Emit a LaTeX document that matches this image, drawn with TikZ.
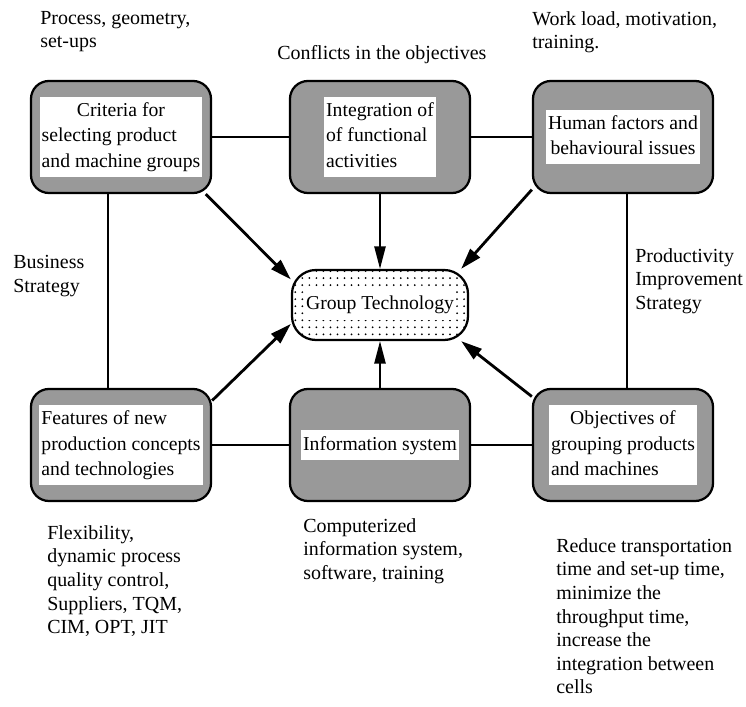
\documentclass[tikz,border=0pt]{standalone}
\usepackage{fontspec}
\setmainfont{Liberation Serif}
\usetikzlibrary{arrows.meta,patterns.meta}

\tikzset{
  factor/.style={draw,line width=1.6pt,rounded corners=0.45cm,fill=black!40,
    minimum width=4.5cm,minimum height=2.8cm,inner sep=3pt,
    font=\fontsize{14}{17.8}\selectfont},
  core/.style={draw,line width=1.6pt,rounded corners=0.6cm,
    pattern={Dots[distance=5pt,radius=0.7pt]},
    minimum width=4.4cm,minimum height=1.75cm,
    font=\fontsize{14}{17.8}\selectfont},
  note/.style={anchor=north west,inner sep=0pt,align=left,
    font=\fontsize{14.2}{16.8}\selectfont},
  link/.style={line width=1pt},
  push/.style={line width=2pt,-{Triangle[length=15pt,width=9pt]}},
  feed/.style={line width=1.2pt,-{Triangle[length=16pt,width=8pt]}}
}
\newcommand{\whitelines}[2][c]{{\setlength{\fboxsep}{1.5pt}\colorbox{white}{\begin{tabular}{@{}#1@{}}#2\end{tabular}}}}
\newcommand{\headline}[1]{\multicolumn{1}{@{}c@{}}{#1}}

\begin{document}
\begin{tikzpicture}[x=0.025cm,y=-0.025cm]

  \path[use as bounding box] (0,0) rectangle (746,707);

  % the six fields round the centre
  \draw (121,137) node [factor] (crit)
  {\whitelines[l]{\headline{Criteria for}\\selecting product\\and machine groups}};

  \draw (380,137) node [factor] (integ)
  {\whitelines[l]{Integration of\\of functional\\activities}};

  \draw (623,137) node [factor] (human)
  {\whitelines{Human factors and\\behavioural issues}};

  \draw (121,445) node [factor] (feat)
  {\whitelines[l]{Features of new\\production concepts\\and technologies}};

  \draw (380,445) node [factor] (info)
  {\whitelines{Information system}};

  \draw (623,445) node [factor] (obj)
  {\whitelines[l]{\headline{Objectives of}\\grouping products\\and machines}};

  \draw (380,305) node [core] (gt)
  {\whitelines{Group Technology}};

  % notes
  \draw (40,11) node [note] (procnote) {Process, geometry,\\set-ups};
  \draw (277,45) node [note] (conflnote) {Conflicts in the objectives};
  \draw (532,11) node [note] (worknote) {Work load, motivation,\\training.};
  \draw (13,255) node [note] (busnote) {Business\\Strategy};
  \draw (635,248) node [note] (prodnote) {Productivity\\Improvement\\Strategy};
  \draw (47,525) node [note] (flexnote)
  {Flexibility,\\dynamic process\\quality control,\\Suppliers, TQM,\\CIM, OPT, JIT};
  \draw (303,518) node [note] (infonote)
  {Computerized\\information system,\\software, training};
  \draw (556,538) node [note] (objnote)
  {Reduce transportation\\time and set-up time,\\minimize the\\throughput time,\\increase the\\integration between\\cells};

  % connections
  \draw[link] (crit) -- (integ);
  \draw[link] (integ) -- (human);
  \draw[link] (feat) -- (info);
  \draw[link] (info) -- (obj);
  \draw[link] ([xshift=-0.33cm]crit.south) -- ([xshift=-0.33cm]feat.north);
  \draw[link] ([xshift=0.1cm]human.south) -- ([xshift=0.1cm]obj.north);

  \draw[push] (crit.-34) -- (gt.164);
  \draw[push] (human.210) -- (gt.24);
  \draw[push] (feat.26) -- (gt.192);
  \draw[push] (obj.152) -- (gt.-24);
  \draw[feed] (integ) -- (gt);
  \draw[feed] (info) -- (gt);

\end{tikzpicture}
\end{document}
